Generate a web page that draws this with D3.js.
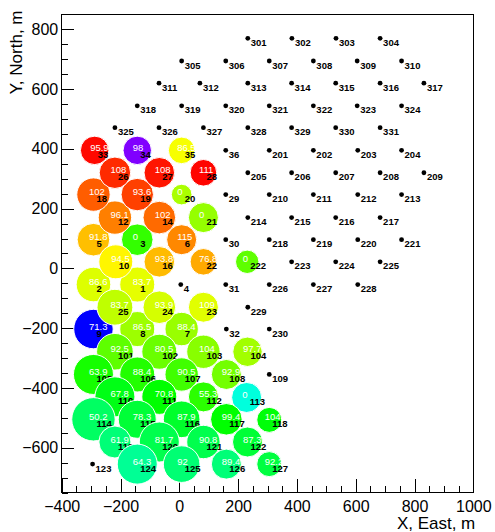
<!DOCTYPE html>
<html>
	<head>
		<title>Station map</title>
		<meta charset="utf-8">
	</head>
	<body>
		<svg id="chart" width="495" height="532"></svg>
	</body>

	<script src="https://cdn.jsdelivr.net/npm/d3@7"></script>
	<script>
		// station positions, metres
		const stationIds = [1, 2, 3, 4, 5, 6, 7, 8, 9, 10, 12, 14, 16, 18, 19, 20, 21, 22, 23, 24, 25, 26, 27, 28, 29, 30, 31, 32, 33, 34, 35, 36,
			101, 102, 103, 104, 105, 106, 107, 108, 109, 110, 111, 112, 113, 114, 115, 116, 117, 118, 119, 120, 121, 122, 123, 124, 125, 126, 127,
			201, 202, 203, 204, 205, 206, 207, 208, 209, 210, 211, 212, 213, 214, 215, 216, 217, 218, 219, 220, 221, 222, 223, 224, 225, 226, 227, 228, 229, 230,
			301, 302, 303, 304, 305, 306, 307, 308, 309, 310, 311, 312, 313, 314, 315, 316, 317, 318, 319, 320, 321, 322, 323, 324, 325, 326, 327, 328, 329, 330, 331];
		const stationX = [-143, -292, -143, 5, -292, 8, 8, -143, -292, -216, -219, -68, -68, -292, -143, 8, 82, 82, 82, -68, -219, -219, -68, 82, 158, 158, 158, 160, -288, -143, 8, 158,
			-219, -68, 82, 232, -292, -143, 8, 160, 306, -219, -68, 82, 229, -292, -143, 8, 160, 306, -219, -68, 82, 232, -295, -143, 8, 160, 306,
			306, 456, 607, 756, 233, 382, 532, 683, 832, 306, 456, 607, 756, 233, 382, 532, 683, 306, 456, 607, 756, 231, 382, 532, 683, 306, 456, 607, 233, 306,
			233, 383, 533, 683, 8, 158, 306, 456, 605, 756, -69, 70, 233, 382, 532, 683, 832, -143, 8, 158, 306, 456, 605, 756, -219, -69, 82, 233, 382, 532, 683];
		const stationY = [-54, -54, 96, -54, 96, 96, -203, -203, -203, 22, 170, 170, 22, 247, 247, 247, 170, 22, -130, -130, -130, 320, 320, 320, 247, 96, -54, -203, 395, 395, 395, 395,
			-279, -279, -279, -279, -355, -355, -355, -355, -355, -430, -430, -430, -432, -505, -505, -505, -505, -507, -581, -581, -581, -581, -655, -655, -655, -655, -655,
			395, 395, 395, 395, 320, 320, 320, 320, 320, 247, 247, 247, 247, 170, 170, 170, 170, 96, 96, 96, 96, 22, 22, 22, 22, -54, -54, -54, -130, -203,
			770, 770, 770, 770, 694, 694, 694, 694, 694, 694, 620, 620, 620, 620, 620, 620, 620, 544, 544, 544, 544, 544, 544, 544, 471, 471, 471, 471, 471, 471, 471];

		// stations with a signal: printed value, density (circle area), arrival time (colour)
		const hitIds = [1, 2, 3, 5, 6, 7, 8, 9, 10, 12, 14, 16, 18, 19, 20, 21, 22, 23, 24, 25, 26, 27, 28, 33, 34, 35,
			101, 102, 103, 104, 105, 106, 107, 108, 110, 111, 112, 113, 114, 115, 116, 117, 118, 119, 120, 121, 122, 124, 125, 126, 127, 222];
		const hitValue = ["83.7", "86.6", "0", "91.8", "115", "88.4", "86.5", "71.3", "94.5", "96.1", "102", "93.8", "102", "93.6", "0", "0", "76.8", "109", "93.9", "83.7", "108", "108", "111", "95.9", "98", "86.5",
			"92.5", "80.5", "104", "97.7", "63.9", "88.4", "90.5", "92.9", "67.8", "70.8", "55.3", "0", "50.2", "78.3", "87.9", "99.4", "104", "61.9", "81.7", "90.8", "87.3", "64.3", "92", "89.4", "92.2", "0"];
		const hitDensity = [253, 247, 206, 220, 186, 230, 253, 321, 239, 230, 220, 193, 230, 217, 88, 186, 146, 186, 220, 265, 204, 193, 146, 167, 167, 146,
			277, 253, 230, 179, 331, 253, 230, 186, 331, 253, 186, 186, 389, 298, 277, 206, 129, 212, 331, 230, 186, 331, 277, 186, 129, 113];
		const hitTime = [2.14, 2.12, 1.72, 2.35, 2.48, 1.96, 1.97, 0.40, 2.22, 2.50, 2.55, 2.36, 2.58, 2.65, 2.00, 1.95, 2.40, 2.13, 2.10, 2.05, 2.70, 2.75, 2.79, 2.78, 0.10, 2.18,
			1.82, 1.85, 1.92, 1.98, 1.65, 1.68, 1.75, 1.87, 1.55, 1.60, 1.70, 1.08, 1.37, 1.47, 1.50, 1.60, 1.58, 1.32, 1.42, 1.42, 1.47, 1.25, 1.33, 1.32, 1.45, 1.82];

		const xTicks = [-400, -200, 0, 200, 400, 600, 800, 1000];
		const yTicks = [-600, -400, -200, 0, 200, 400, 600, 800];

		const width = 495, height = 532;
		const margin = {top: 14.4, right: 21.7, bottom: 39.5, left: 61.7};

		const svg = d3.select("#chart");

		const x = d3.scaleLinear().domain([-400, 1000]).range([margin.left, width - margin.right]);
		const y = d3.scaleLinear().domain([-750, 850]).range([height - margin.bottom, margin.top]);
		const r = d3.scaleSqrt().domain([0, 400]).range([0, 22]);
		// ROOT "pretty" palette: violet (early) -> red (late)
		const hue = d3.scaleLinear().domain([0, 2.8]).range([280, 0]);
		const fmt = d3.format("d");

		// axes, ticks pointing inwards
		svg.append("g")
			.attr("class", "axis")
			.attr("transform", `translate(0,${y.range()[0]})`)
			.call(d3.axisBottom(x).tickValues(d3.range(-400, 1001, 50)).tickSize(-7).tickFormat(""));
		svg.append("g")
			.attr("class", "axis")
			.attr("transform", `translate(0,${y.range()[0]})`)
			.call(d3.axisBottom(x).tickValues(xTicks).tickSize(-14).tickSizeOuter(0).tickPadding(8).tickFormat(fmt));

		svg.append("g")
			.attr("class", "axis")
			.attr("transform", `translate(${x.range()[0]},0)`)
			.call(d3.axisLeft(y).tickValues(d3.range(-750, 851, 50)).tickSize(-6).tickFormat(""));
		svg.append("g")
			.attr("class", "axis")
			.attr("transform", `translate(${x.range()[0]},0)`)
			.call(d3.axisLeft(y).tickValues(yTicks).tickSize(-12).tickSizeOuter(0).tickPadding(3.5).tickFormat(fmt));

		svg.selectAll(".axis path").attr("stroke", "none");

		// frame
		svg.append("rect")
			.attr("x", x.range()[0])
			.attr("y", y.range()[1])
			.attr("width", x.range()[1] - x.range()[0])
			.attr("height", y.range()[0] - y.range()[1])
			.attr("fill", "none")
			.attr("stroke", "#000")
			.attr("shape-rendering", "crispEdges");

		// titles
		svg.append("text")
			.attr("class", "title")
			.attr("x", x.range()[1] + 2)
			.attr("y", 529)
			.attr("text-anchor", "end")
			.text("X, East, m");
		svg.append("text")
			.attr("class", "title")
			.attr("transform", "translate(22,10.5) rotate(-90)")
			.attr("text-anchor", "end")
			.text("Y, North, m");

		// stations, drawn in id order
		const stations = stationIds.map((id, i) => {
			const h = hitIds.indexOf(id);
			return {
				id: id, x: stationX[i], y: stationY[i],
				hit: h >= 0,
				value: h >= 0 ? hitValue[h] : null,
				density: h >= 0 ? hitDensity[h] : 0,
				time: h >= 0 ? hitTime[h] : 0
			};
		});

		const st = svg.append("g")
			.selectAll("g")
			.data(stations)
			.enter().append("g")
			.attr("transform", d => `translate(${x(d.x)},${y(d.y)})`);

		st.append("circle")
			.attr("r", d => d.hit ? r(d.density) : 2.4)
			.attr("fill", d => d.hit ? d3.hsl(hue(d.time), 1, 0.5) : "#000")
			.attr("stroke", d => d.hit ? "#fff" : "none")
			.attr("stroke-width", 1);

		st.filter(d => d.hit).append("text")
			.attr("class", "val")
			.attr("x", -4.5)
			.attr("y", 0.5)
			.text(d => d.value);

		st.append("text")
			.attr("class", "sid")
			.attr("x", 3)
			.attr("y", 7.5)
			.text(d => d.id);
	</script>

	<style>
		html, body
		{
			margin: 0;
			background: #fff;
		}

		svg
		{
			display: block;
			font-family: "Liberation Sans", Arial, sans-serif;
		}

		.axis line
		{
			stroke: #000;
			shape-rendering: crispEdges;
		}

		.axis text
		{
			font-size: 16px;
			fill: #000;
		}

		.title
		{
			font-size: 17px;
		}

		.val
		{
			font-size: 9.5px;
			fill: #fff;
		}

		.sid
		{
			font-size: 9.5px;
			font-weight: bold;
			fill: #000;
		}
	</style>
</html>
